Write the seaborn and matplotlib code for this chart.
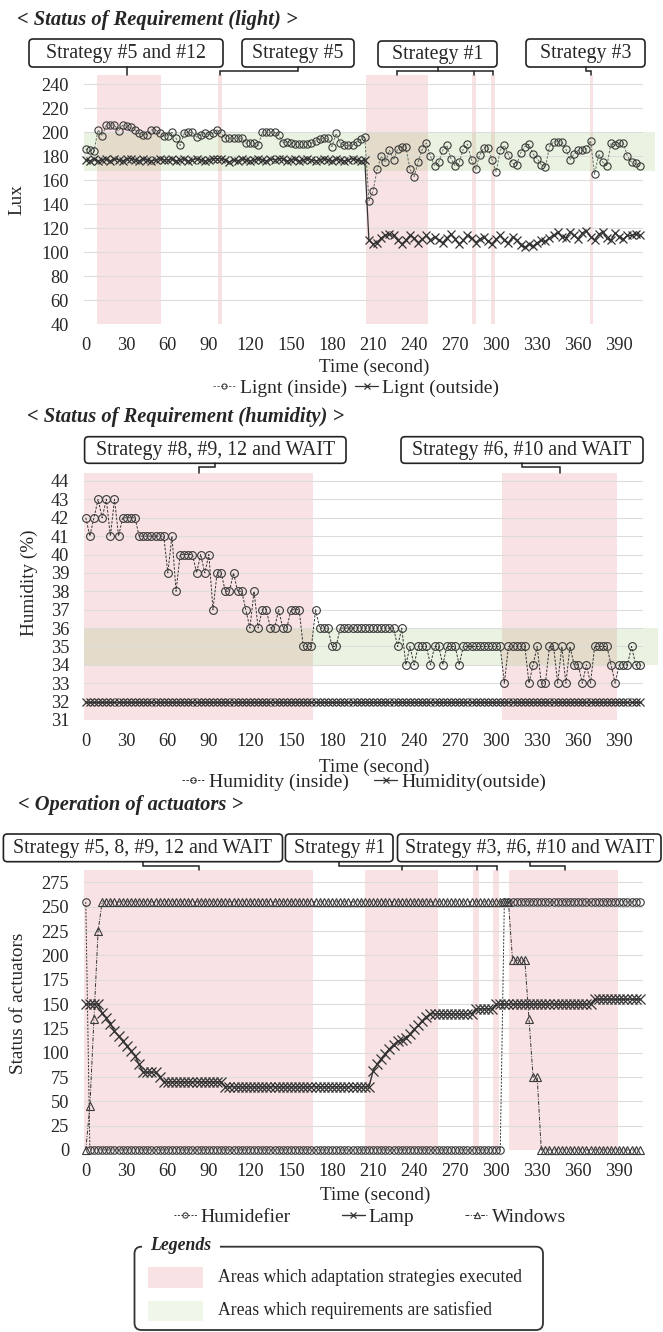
import numpy as np
import matplotlib
matplotlib.use("Agg")
import matplotlib.pyplot as plt
from matplotlib.patches import FancyBboxPatch, Rectangle
import seaborn as sns

# ---------------- data ----------------
STEP = 3  # seconds between samples

light_inside = [
    186, 185, 184, 202, 197, 206, 206, 206, 201, 206,
    205, 204, 202, 199, 198, 198, 202, 202, 199, 197,
    197, 200, 195, 189, 199, 200, 200, 196, 198, 199,
    198, 199, 202, 199, 195, 195, 195, 195, 195, 191,
    191, 191, 189, 200, 200, 200, 200, 198, 191, 192,
    191, 190, 190, 190, 190, 191, 193, 194, 195, 195,
    188, 199, 191, 189, 189, 189, 192, 194, 196,
    143, 151, 169, 180, 175, 185, 177, 186, 188, 188,
    169, 163, 175, 186, 191, 180, 172, 175, 185, 189,
    178, 172, 175, 186, 190, 177, 169, 181, 187, 187,
    177, 167, 185, 189, 181, 174, 173, 183, 188, 190,
    182, 178, 173, 171, 188, 192, 192, 192, 186, 177,
    182, 185, 185, 186, 193, 165, 182, 175, 172, 191,
    189, 191, 191, 180, 175, 174, 172]
light_outside = [
    177, 176, 178, 176, 177, 178, 176, 178, 177, 176,
    178, 178, 177, 176, 178, 177, 176, 177, 178, 177,
    177, 178, 176, 177, 178, 176, 177, 178, 177, 176,
    177, 178, 178, 178, 177, 175, 177, 176, 178, 177,
    176, 177, 178, 177, 176, 178, 177, 178, 178, 176,
    177, 178, 176, 177, 178, 177, 176, 177, 178, 177,
    176, 178, 177, 176, 177, 178, 177, 176, 177,
    110, 107, 108, 112, 114, 115, 114, 110, 107, 110,
    114, 112, 108, 111, 114, 110, 113, 110, 108, 112,
    115, 111, 107, 110, 114, 112, 108, 111, 113, 109,
    107, 111, 114, 110, 108, 113, 110, 106, 104, 107,
    105, 108, 110, 109, 112, 114, 117, 113, 112, 117,
    114, 111, 116, 118, 113, 110, 115, 117, 112, 110,
    116, 113, 111, 114, 114, 115, 114]

hum_inside = ([42, 41, 42, 43, 42, 43, 41, 43, 41, 42, 42, 42, 42]
              + [41, 41, 41, 41, 41, 41, 41]
              + [39, 41, 38, 40, 40, 40, 40, 39, 40, 39, 40, 37, 39, 39, 38, 38,
                 39, 38, 38, 37, 36, 38, 36, 37, 37, 36, 36, 37, 36, 36, 37, 37,
                 37, 35, 35, 35, 37, 36, 36, 36, 35, 35]
              + [36] * 14
              + [35, 36, 34, 35, 34, 35, 35, 35, 34, 35, 35, 34, 35, 35, 35, 34]
              + [35] * 10
              + [33, 35, 35, 35, 35, 35, 33, 34, 35, 33, 33, 35, 35, 33, 35, 33,
                 35, 34, 34, 33, 34, 33, 35, 35, 35, 35, 34, 33, 34, 34, 34, 35,
                 34, 34])
hum_outside = [32] * 136

humidifier = [255] + [0] * 101 + [255] * 34
lamp = ([150, 150, 150, 150, 141, 136, 130, 122, 117, 112, 107, 102, 97, 88,
         80, 80, 80, 80, 75] + [70] * 15 + [65] * 36
        + [81, 88, 94, 99, 104, 108, 112, 113, 115, 119, 124, 128, 133, 137]
        + [140] * 11 + [145] * 5 + [150] * 24 + [155] * 12)
windows = [0, 45, 135, 225] + [255] * 100 + [195] * 4 + [135, 75, 75] + [0] * 25

x_ticks = list(range(0, 391, 30))
light_yticks = list(range(40, 241, 20))
hum_yticks = list(range(31, 45))
act_yticks = list(range(0, 276, 25))

light_spans = [(8.4, 54.7), (97, 99.6), (204.7, 250.4), (282.2, 285.3),
               (296.1, 299.2), (368.5, 370.9)]
light_ok = (168, 200)
hum_spans = [(-1, 166), (304.5, 388.5)]
hum_ok = (34, 36)
act_spans = [(-1, 166), (204, 257.8), (282.8, 287.4), (297.4, 302), (309.7, 389.2)]

# ---------------- style ----------------
sns.set_style("white")
plt.rcParams['font.family'] = ['Liberation Serif', 'DejaVu Serif']

PINK = (0.90, 0.55, 0.58)
PINK_A = 0.25
GREEN = (0.55, 0.75, 0.35)
GREEN_A = 0.18
INK = '#333333'

W, H = 663, 1332
fig = plt.figure(figsize=(W / 100, H / 100), dpi=100)

XL, XR = 84.4, 642.5


def add_ax(top, bottom):
    return fig.add_axes([XL / W, 1 - bottom / H, (XR - XL) / W, (bottom - top) / H])


def setup(ax, ylim, yticks):
    ax.set_xlim(-1, 407)
    ax.set_ylim(*ylim)
    ax.set_xticks(x_ticks)
    ax.set_yticks(yticks)
    ax.grid(axis='y', color='#dcdcdc', lw=0.8)
    ax.grid(axis='x', visible=False)
    ax.set_axisbelow(True)
    for s in ax.spines.values():
        s.set_visible(False)
    ax.tick_params(axis='x', length=0, labelsize=13.2, pad=9)
    ax.tick_params(axis='y', length=0, labelsize=13.2, pad=11)
    ax.patch.set_alpha(0)


def spans(ax, sp):
    for a, b in sp:
        ax.axvspan(a, b, color=PINK, alpha=PINK_A, lw=0, zorder=0.3)


def ok_band(ax, lo, hi, xend):
    ax.add_patch(Rectangle((-1, lo), xend + 1, hi - lo, color=GREEN, alpha=GREEN_A,
                           lw=0, zorder=0.3, clip_on=False))


# ---------------- panel 1: light ----------------
ax1 = add_ax(75, 324.3)
setup(ax1, (40, 247.7), light_yticks)
spans(ax1, light_spans)
ok_band(ax1, *light_ok, 416)
t1 = np.arange(len(light_inside)) * STEP
sns.lineplot(x=t1, y=light_inside, ax=ax1, color='#607060', linestyle=(0, (2.5, 1.5)), lw=0.7,
             marker='o', markersize=5.2, markerfacecolor='none', markeredgecolor='#3a3a3a',
             markeredgewidth=0.8, label='Lignt (inside)', clip_on=False)
sns.lineplot(x=t1, y=light_outside, ax=ax1, color=INK, lw=0.9,
             marker='x', markersize=6, markeredgecolor=INK, markeredgewidth=0.9,
             label='Lignt (outside)', clip_on=False)
ax1.set_xlabel('Time (second)', fontsize=13.8)
ax1.xaxis.label.set_va('center')
ax1.xaxis.set_label_coords((374 - XL) / (XR - XL), -(367 - 324.3) / (324.3 - 75))
ax1.set_ylabel('Lux', fontsize=13.8)
ax1.yaxis.label.set_va('center')
ax1.yaxis.set_label_coords((17 - XL) / (XR - XL), 0.5)
h, l = ax1.get_legend_handles_labels()
ax1.legend(h, l, loc='center', bbox_to_anchor=(356 / W, 1 - 388 / H), bbox_transform=fig.transFigure,
           ncol=2, frameon=False, fontsize=14, handlelength=1.2, handletextpad=0.2,
           columnspacing=0.4, markerscale=0.7)

# ---------------- panel 2: humidity ----------------
ax2 = add_ax(472.7, 720)
setup(ax2, (31, 44.45), hum_yticks)
spans(ax2, hum_spans)
ok_band(ax2, *hum_ok, 418)
t2 = np.arange(len(hum_inside)) * STEP
sns.lineplot(x=t2, y=hum_inside, ax=ax2, color=INK, linestyle=(0, (2.5, 1.5)), lw=0.7,
             marker='o', markersize=5.6, markerfacecolor='none', markeredgecolor='#3a3a3a',
             markeredgewidth=0.8, label='Humidity (inside)', clip_on=False)
sns.lineplot(x=t2, y=hum_outside, ax=ax2, color=INK, lw=0.9,
             marker='x', markersize=6, markeredgecolor=INK, markeredgewidth=0.9,
             label='Humidity(outside)', clip_on=False)
ax2.set_xlabel('Time (second)', fontsize=13.8)
ax2.xaxis.label.set_va('center')
ax2.xaxis.set_label_coords((374 - XL) / (XR - XL), -(767 - 720) / (720 - 472.7))
ax2.set_ylabel('Humidity (%)', fontsize=13.8)
ax2.yaxis.label.set_va('center')
ax2.yaxis.set_label_coords((29.6 - XL) / (XR - XL), (720 - 583) / (720 - 472.7))
h, l = ax2.get_legend_handles_labels()
ax2.legend(h, l, loc='center', bbox_to_anchor=(364 / W, 1 - 782 / H), bbox_transform=fig.transFigure,
           ncol=2, frameon=False, fontsize=14, handlelength=1.2, handletextpad=0.2,
           columnspacing=1.3, markerscale=0.7)

# ---------------- panel 3: actuators ----------------
ax3 = add_ax(869.8, 1150)
setup(ax3, (0, 288), act_yticks)
spans(ax3, act_spans)
t3 = np.arange(len(lamp)) * STEP
sns.lineplot(x=t3, y=humidifier, ax=ax3, color=INK, linestyle=(0, (2, 1.5)), lw=0.7,
             marker='o', markersize=5.4, markerfacecolor='none', markeredgecolor='#3a3a3a',
             markeredgewidth=0.8, label='Humidefier', clip_on=False)
sns.lineplot(x=t3, y=lamp, ax=ax3, color=INK, lw=1.0,
             marker='x', markersize=6.5, markeredgecolor=INK, markeredgewidth=0.9,
             label='Lamp', clip_on=False)
sns.lineplot(x=t3, y=windows, ax=ax3, color=INK, linestyle=(0, (4, 1.5, 1, 1.5)), lw=0.7,
             marker='^', markersize=5.4, markerfacecolor='none', markeredgecolor='#3a3a3a',
             markeredgewidth=0.8, label='Windows', clip_on=False)
ax3.set_xlabel('Time (second)', fontsize=13.8)
ax3.xaxis.label.set_va('center')
ax3.xaxis.set_label_coords((375 - XL) / (XR - XL), -(1195 - 1150) / (1150 - 869.8))
ax3.set_ylabel('Status of actuators', fontsize=13.8)
ax3.yaxis.label.set_va('center')
ax3.yaxis.set_label_coords((18 - XL) / (XR - XL), (1150 - 1003) / (1150 - 869.8))
h, l = ax3.get_legend_handles_labels()
ax3.legend(h, l, loc='center', bbox_to_anchor=(370 / W, 1 - 1217 / H), bbox_transform=fig.transFigure,
           ncol=3, frameon=False, fontsize=14, handlelength=1.2, handletextpad=0.2,
           columnspacing=2.6, markerscale=0.7)

# ---------------- overlay: titles, strategy boxes, brackets, legend ----------------
ov = fig.add_axes([0, 0, 1, 1], zorder=10)
ov.set_xlim(0, W)
ov.set_ylim(H, 0)
ov.axis('off')
ov.patch.set_alpha(0)

title_kw = dict(fontsize=14.8, fontweight='bold', fontstyle='italic', ha='left', va='center')
ov.text(17, 20, '< Status of Requirement (light) >', **title_kw)
ov.text(27, 417, '< Status of Requirement (humidity) >', **title_kw)
ov.text(18, 805, '< Operation of actuators >', **title_kw)


def box(x0, x1, y0, y1, text):
    ov.add_patch(FancyBboxPatch((x0, y0), x1 - x0, y1 - y0,
                                boxstyle='round,pad=0,rounding_size=4',
                                fc='white', ec='#222222', lw=1.2))
    ov.text((x0 + x1) / 2, (y0 + y1) / 2 + 0.5, text, ha='center', va='center', fontsize=14.3)


def path(xs, ys):
    ov.plot(xs, ys, color='#222222', lw=1.1, solid_joinstyle='miter')


# panel 1 boxes
box(29, 223, 39, 67, 'Strategy #5 and #12')
box(242, 354, 39, 67, 'Strategy #5')
box(378, 497, 41, 67, 'Strategy #1')
box(526, 645, 39, 67, 'Strategy #3')
path([127, 127], [67, 75])
path([298, 298, 220, 220], [67, 70.7, 70.7, 75])
path([438, 438], [67, 70.7])
path([397, 493], [70.7, 70.7])
for xv in (397, 474, 493):
    path([xv, xv], [70.7, 75])
path([585.5, 585.5, 591, 591], [67, 70.7, 70.7, 75])

# panel 2 boxes
box(84.6, 346, 436.7, 463.3, 'Strategy #8, #9, 12 and WAIT')
box(401, 643, 436.7, 463.3, 'Strategy #6, #10 and WAIT')
path([215, 215, 198.7, 198.7], [463.3, 466.7, 466.7, 472.7])
path([522, 522, 560, 560], [463.3, 466.7, 466.7, 472.7])

# panel 3 boxes
box(3.4, 282.5, 834, 861.7, 'Strategy #5, 8, #9, 12 and WAIT')
box(285.4, 393, 834, 861.7, 'Strategy #1')
box(397.5, 661, 834, 861.7, 'Strategy #3, #6, #10 and WAIT')
path([143, 143, 198.7, 198.7], [861.7, 866, 866, 870])
path([339, 339, 497], [861.7, 866, 866])
for xv in (401.7, 477, 497):
    path([xv, xv], [866, 870])
path([530, 530, 564.5, 564.5], [861.7, 866, 866, 870])

# bottom legend box
ov.add_patch(FancyBboxPatch((134.5, 1246.7), 543 - 134.5, 1330 - 1246.7,
                            boxstyle='round,pad=0,rounding_size=7',
                            fc='none', ec='#333333', lw=1.3))
ov.add_patch(Rectangle((142, 1242), 220 - 142, 9, fc='white', ec='none', zorder=3))
ov.text(150, 1246, 'Legends', fontsize=12.8, fontweight='bold', fontstyle='italic',
        ha='left', va='center', zorder=4)
ov.add_patch(Rectangle((148, 1266.7), 55, 21.3, color=PINK, alpha=PINK_A, lw=0))
ov.add_patch(Rectangle((148, 1300.7), 55, 20, color=GREEN, alpha=0.13, lw=0))
ov.text(217.8, 1277, 'Areas which adaptation strategies executed', fontsize=12.7,
        ha='left', va='center')
ov.text(217.8, 1310, 'Areas which requirements are satisfied', fontsize=12.7,
        ha='left', va='center')

fig.savefig('out.png', dpi=100)
